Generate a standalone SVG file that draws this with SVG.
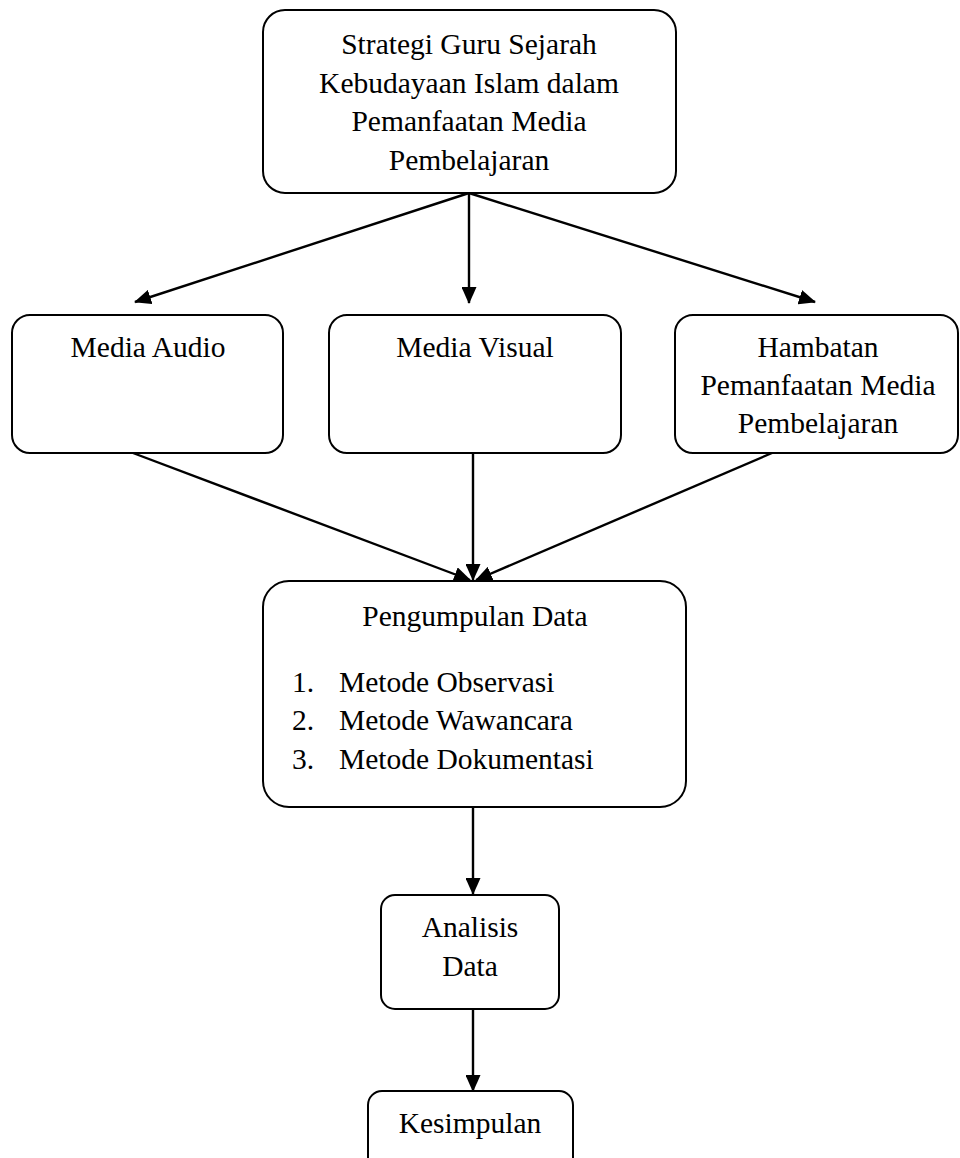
<svg xmlns="http://www.w3.org/2000/svg" width="960" height="1158" viewBox="0 0 960 1158">
<style>
.box{fill:#fff;stroke:#000;stroke-width:2}
.t{font-family:"Liberation Serif","Times New Roman",serif;font-size:29.5px;fill:#000}
.c{text-anchor:middle}
.ln{stroke:#000;stroke-width:2.4;fill:none;marker-end:url(#ah)}
</style>
<defs>
<marker id="ah" markerUnits="userSpaceOnUse" markerWidth="17" markerHeight="15" refX="16" refY="7.5" orient="auto">
<path d="M0,0 L17,7.5 L0,15 Z" fill="#000"/>
</marker>
</defs>
<rect width="960" height="1158" fill="#fff"/>
<g id="connectors">
<line class="ln" x1="469" y1="193" x2="135" y2="302"/>
<line class="ln" x1="469" y1="193" x2="469" y2="303"/>
<line class="ln" x1="469" y1="193" x2="815" y2="302"/>
<line class="ln" x1="133" y1="453" x2="470" y2="580"/>
<line class="ln" x1="473" y1="453" x2="473" y2="580"/>
<line class="ln" x1="772" y1="453" x2="476" y2="580"/>
<line class="ln" x1="473" y1="807" x2="473" y2="894"/>
<line class="ln" x1="473" y1="1009" x2="473" y2="1091"/>
</g>
<g id="n_strategi">
<rect class="box" x="263" y="10" width="413" height="183" rx="22"/>
<text class="t c" x="469" y="54">Strategi Guru Sejarah</text>
<text class="t c" x="469" y="93">Kebudayaan Islam dalam</text>
<text class="t c" x="469" y="131">Pemanfaatan Media</text>
<text class="t c" x="469" y="170">Pembelajaran</text>
</g>
<g id="n_audio">
<rect class="box" x="12" y="315" width="271" height="138" rx="18"/>
<text class="t c" x="148" y="357">Media Audio</text>
</g>
<g id="n_visual">
<rect class="box" x="329" y="315" width="292" height="138" rx="18"/>
<text class="t c" x="475" y="357">Media Visual</text>
</g>
<g id="n_hambatan">
<rect class="box" x="675" y="315" width="283" height="138" rx="18"/>
<text class="t c" x="818" y="357">Hambatan</text>
<text class="t c" x="818" y="395">Pemanfaatan Media</text>
<text class="t c" x="818" y="433">Pembelajaran</text>
</g>
<g id="n_pengumpulan">
<rect class="box" x="263" y="581" width="423" height="226" rx="26"/>
<text class="t c" x="475" y="626">Pengumpulan Data</text>
<text class="t" x="292" y="692">1.</text>
<text class="t" x="339" y="692">Metode Observasi</text>
<text class="t" x="292" y="730">2.</text>
<text class="t" x="339" y="730">Metode Wawancara</text>
<text class="t" x="292" y="769">3.</text>
<text class="t" x="339" y="769">Metode Dokumentasi</text>
</g>
<g id="n_analisis">
<rect class="box" x="381" y="895" width="178" height="114" rx="14"/>
<text class="t c" x="470" y="937">Analisis</text>
<text class="t c" x="470" y="976">Data</text>
</g>
<g id="n_kesimpulan">
<rect class="box" x="368" y="1091" width="205" height="100" rx="14"/>
<text class="t c" x="470" y="1133">Kesimpulan</text>
</g>
</svg>
